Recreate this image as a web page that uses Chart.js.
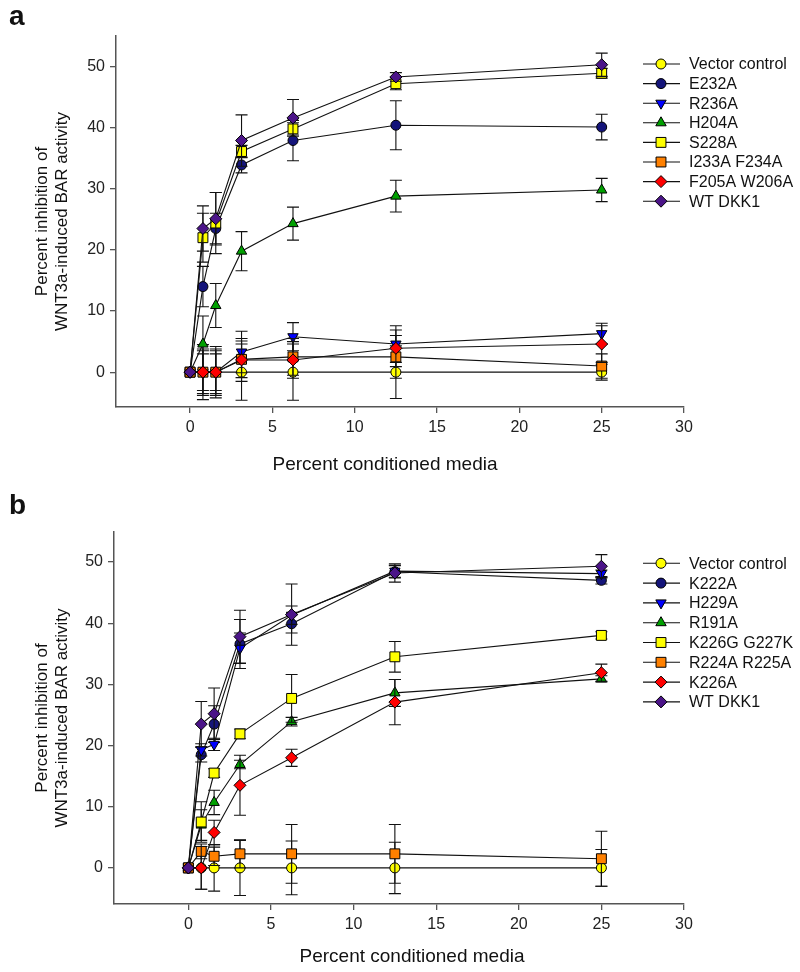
<!DOCTYPE html>
<html>
<head>
<meta charset="utf-8">
<script src="https://cdn.jsdelivr.net/npm/chart.js@4.4.1/dist/chart.umd.min.js"></script>
<style>
  html, body { margin: 0; padding: 0; background: #fff; }
  #wrap { position: relative; width: 800px; height: 972px; overflow: hidden; }
  .panel { position: absolute; left: 0; }
  .tag { position: absolute; left: 9px; font: bold 28px "Liberation Sans", Arial, sans-serif; line-height: 28px; color: #111; }
</style>
</head>
<body>
<div id="wrap">
  <canvas id="chartA" class="panel" width="800" height="486" style="top:0"></canvas>
  <canvas id="chartB" class="panel" width="800" height="486" style="top:486px"></canvas>
  <div class="tag" style="top:2px">a</div>
  <div class="tag" style="top:491px">b</div>
</div>
<script>
// percent conditioned media (x positions shared by both panels)
const doses = [0, 0.78, 1.56, 3.125, 6.25, 12.5, 25];

// panel a
const labelsA = ['Vector control', 'E232A', 'R236A', 'H204A', 'S228A', 'I233A F234A', 'F205A W206A', 'WT DKK1'];
const vectorA = [0, 0, 0, 0, 0, 0, 0];
const e232a   = [0, 14.0, 23.5, 33.9, 37.9, 40.4, 40.1];
const r236a   = [0, 0, 0, 3.3, 5.8, 4.6, 6.3];
const h204a   = [0, 4.6, 10.9, 19.8, 24.3, 28.8, 29.8];
const s228a   = [0, 22.0, 24.4, 36.1, 39.8, 47.2, 48.9];
const i233a   = [0, 0, 0, 2.1, 2.5, 2.5, 1.0];
const f205a   = [0, 0, 0, 2.0, 2.0, 3.9, 4.6];
const wtA     = [0, 23.5, 25.1, 37.9, 41.6, 48.3, 50.3];
// error bars (+/-) panel a
const vectorAErr = [0, 4.5, 4.2, 4.6, 4.6, 4.3, 1.3];
const e232aErr   = [0, 3.3, 2.5, 1.3, 3.3, 4.0, 2.1];
const r236aErr   = [0, 3.5, 3.5, 3.4, 2.3, 3.0, 1.7];
const h204aErr   = [0, 4.6, 3.6, 3.2, 2.7, 2.6, 1.9];
const s228aErr   = [0, 4.0, 5.0, 1.0, 1.0, 1.0, 0.8];
const i233aErr   = [0, 3.0, 3.0, 3.0, 3.0, 3.5, 2.0];
const f205aErr   = [0, 3.8, 3.8, 3.5, 3.0, 3.0, 3.0];
const wtAErr     = [0, 3.7, 4.3, 4.2, 3.0, 0.7, 1.9];

// panel b
const labelsB = ['Vector control', 'K222A', 'H229A', 'R191A', 'K226G G227K', 'R224A R225A', 'K226A', 'WT DKK1'];
const vectorB = [0, 0, 0, 0, 0, 0, 0];
const k222a   = [0, 18.5, 23.5, 36.6, 39.9, 48.4, 47.0];
const h229a   = [0, 19.3, 20.2, 35.9, 41.3, 48.5, 48.1];
const r191a   = [0, 7.0, 10.7, 16.9, 23.9, 28.6, 30.9];
const k226g   = [0, 7.5, 15.5, 21.9, 27.7, 34.5, 38.0];
const r224a   = [0, 2.7, 1.9, 2.3, 2.3, 2.3, 1.5];
const k226a   = [0, 0, 5.8, 13.5, 18.0, 27.1, 31.9];
const wtB     = [0, 23.5, 25.2, 37.8, 41.4, 48.2, 49.3];
// error bars (+/-) panel b
const vectorBErr = [0, 3.5, 3.8, 4.5, 4.4, 4.2, 3.0];
const k222aErr   = [0, 1.2, 3.0, 4.0, 1.5, 1.0, 0.6];
const h229aErr   = [0, 1.0, 1.0, 2.5, 1.5, 1.0, 0.6];
const r191aErr   = [0, 2.5, 2.0, 0.7, 0.7, 2.2, 0.5];
const k226gErr   = [0, 3.3, 0.7, 0.8, 3.9, 2.5, 0.6];
const r224aErr   = [0, 1.2, 1.5, 2.3, 4.8, 4.8, 4.5];
const k226aErr   = [0, 3.5, 2.0, 4.9, 1.4, 3.7, 1.4];
const wtBErr     = [0, 3.7, 4.2, 4.3, 5.0, 1.5, 1.9];

const xTicks = [0, 5, 10, 15, 20, 25, 30];
const yTicks = [0, 10, 20, 30, 40, 50];

// marker look per series slot (same in both panels)
const markers = [
  { color: '#FFFF00', style: 'circle', radius: 5, rotation: 0 },
  { color: '#14147A', style: 'circle', radius: 5, rotation: 0 },
  { color: '#0000FF', style: 'triangle', radius: 6, rotation: 180 },
  { color: '#00A000', style: 'triangle', radius: 6, rotation: 0 },
  { color: '#FFFF00', style: 'rect', radius: 7, rotation: 0 },
  { color: '#FF8000', style: 'rect', radius: 7, rotation: 0 },
  { color: '#FF0000', style: 'rectRot', radius: 6, rotation: 0 },
  { color: '#4B1488', style: 'rectRot', radius: 6, rotation: 0 }
];

const FONT = '"Liberation Sans", Arial, Helvetica, sans-serif';

function buildDatasets(labels, series, errors) {
  return series.map(function (vals, i) {
    const m = markers[i];
    return {
      label: labels[i],
      data: vals.map(function (v, j) { return { x: doses[j], y: v }; }),
      errors: errors[i],
      borderColor: '#111',
      borderWidth: 1.1,
      backgroundColor: m.color,
      pointBackgroundColor: m.color,
      pointBorderColor: '#000',
      pointBorderWidth: 1,
      pointStyle: m.style,
      pointRadius: m.radius,
      pointRotation: m.rotation,
      tension: 0,
      order: series.length - i   // later series painted on top
    };
  });
}

// vertical error bars with caps, drawn just under each dataset
const errorBars = {
  id: 'errorBars',
  beforeDatasetDraw(chart, args) {
    const ds = chart.data.datasets[args.index];
    if (!ds.errors) return;
    const ctx = chart.ctx;
    const yScale = chart.scales.y;
    ctx.save();
    ctx.strokeStyle = '#111';
    ctx.lineWidth = 1.1;
    args.meta.data.forEach(function (pt, j) {
      const e = ds.errors[j];
      if (!e) return;
      const v = ds.data[j].y;
      const top = yScale.getPixelForValue(v + e);
      const bot = yScale.getPixelForValue(v - e);
      ctx.beginPath();
      ctx.moveTo(pt.x, top); ctx.lineTo(pt.x, bot);
      ctx.moveTo(pt.x - 6, top); ctx.lineTo(pt.x + 6, top);
      ctx.moveTo(pt.x - 6, bot); ctx.lineTo(pt.x + 6, bot);
      ctx.stroke();
    });
    ctx.restore();
  }
};

// legend with a line + marker sample, as in the figure
const sideLegend = {
  id: 'sideLegend',
  afterDraw(chart, args, opts) {
    const ctx = chart.ctx;
    ctx.save();
    ctx.font = '16px ' + FONT;
    ctx.textBaseline = 'middle';
    chart.data.datasets.forEach(function (ds, i) {
      const y = opts.top + i * opts.step;
      ctx.strokeStyle = '#111';
      ctx.lineWidth = 1.1;
      ctx.beginPath();
      ctx.moveTo(643, y); ctx.lineTo(680, y);
      ctx.stroke();
      ctx.fillStyle = ds.pointBackgroundColor;
      ctx.strokeStyle = '#000';
      ctx.lineWidth = 1;
      Chart.helpers.drawPoint(ctx, {
        pointStyle: ds.pointStyle, radius: ds.pointRadius,
        rotation: ds.pointRotation, borderWidth: 1
      }, 661, y);
      ctx.fillStyle = '#111';
      ctx.fillText(ds.label, 689, y + 1);
    });
    ctx.restore();
  }
};

// x axis title, placed where the figure has it (not always centred)
const xTitle = {
  id: 'xTitle',
  afterDraw(chart, args, opts) {
    const ctx = chart.ctx;
    ctx.save();
    ctx.font = '19px ' + FONT;
    ctx.fillStyle = '#111';
    ctx.textAlign = 'center';
    ctx.textBaseline = 'middle';
    ctx.fillText(opts.text, opts.x, opts.y);
    ctx.restore();
  }
};

function makePanel(canvasId, labels, series, errors, cfg) {
  const ctx = document.getElementById(canvasId);
  return new Chart(ctx, {
    type: 'line',
    data: { datasets: buildDatasets(labels, series, errors) },
    options: {
      responsive: false,
      animation: false,
      layout: { padding: { top: cfg.top, right: 116, bottom: 0, left: 0 } },
      plugins: {
        legend: { display: false },
        tooltip: { enabled: false },
        sideLegend: { top: cfg.legendTop, step: cfg.legendStep },
        xTitle: { text: 'Percent conditioned media', x: cfg.xTitleX, y: cfg.xTitleY }
      },
      scales: {
        x: {
          type: 'linear',
          min: cfg.xMin,
          max: 30,
          afterFit: function (s) { s.height = cfg.xHeight; },
          afterBuildTicks: function (s) { s.ticks = xTicks.map(function (v) { return { value: v }; }); },
          grid: { drawOnChartArea: false, drawTicks: true, tickLength: 6, color: '#555', lineWidth: 1.3 },
          border: { display: true, color: '#555', width: 1.5 },
          ticks: { color: '#222', padding: 5, font: { family: FONT, size: 16 } }
        },
        y: {
          min: cfg.yMin,
          max: cfg.yMax,
          afterFit: function (s) { s.width = cfg.left; },
          afterBuildTicks: function (s) { s.ticks = yTicks.map(function (v) { return { value: v }; }); },
          grid: { drawOnChartArea: false, drawTicks: true, tickLength: 6, color: '#555', lineWidth: 1.3 },
          border: { display: true, color: '#555', width: 1.5 },
          ticks: { color: '#222', padding: 5, font: { family: FONT, size: 16 } },
          title: {
            display: true,
            text: ['Percent inhibition of', 'WNT3a-induced BAR activity'],
            color: '#111',
            font: { family: FONT, size: 17 },
            padding: { top: 32, bottom: 0 }
          }
        }
      }
    },
    plugins: [errorBars, sideLegend, xTitle]
  });
}

makePanel('chartA', labelsA,
  [vectorA, e232a, r236a, h204a, s228a, i233a, f205a, wtA],
  [vectorAErr, e232aErr, r236aErr, h204aErr, s228aErr, i233aErr, f205aErr, wtAErr],
  { top: 36, left: 116, xHeight: 79, xMin: -4.5, yMin: -5.7, yMax: 55,
    xTitleX: 385, xTitleY: 465, legendTop: 64, legendStep: 19.6 });

makePanel('chartB', labelsB,
  [vectorB, k222a, h229a, r191a, k226g, r224a, k226a, wtB],
  [vectorBErr, k222aErr, h229aErr, r191aErr, k226gErr, r224aErr, k226aErr, wtBErr],
  { top: 46, left: 114, xHeight: 68, xMin: -4.5, yMin: -5.9, yMax: 54.9,
    xTitleX: 412, xTitleY: 471, legendTop: 77.3, legendStep: 19.8 });
</script>
</body>
</html>
